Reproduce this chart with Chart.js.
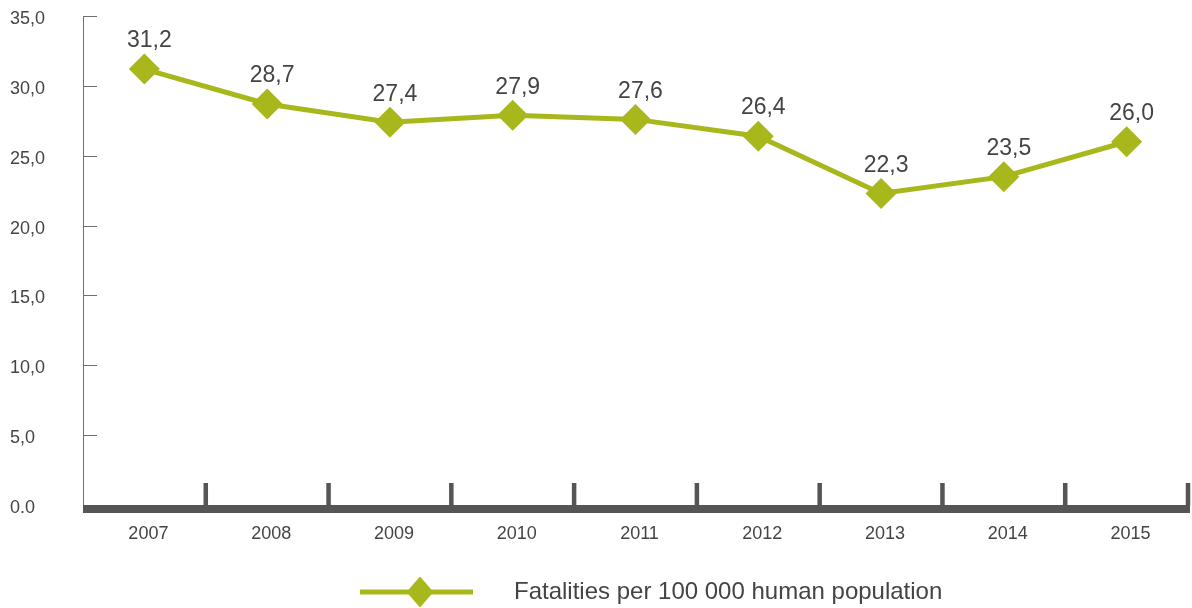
<!DOCTYPE html>
<html><head><meta charset="utf-8">
<style>html,body{margin:0;padding:0;background:#fff}#wrap{width:1192px;height:608px}</style>
<script src="https://cdn.jsdelivr.net/npm/chart.js@4.4.0/dist/chart.umd.min.js"></script>
</head><body><div id="wrap"><canvas id="c" width="1192" height="608"></canvas></div>
<script>
const years = ['2007', '2008', '2009', '2010', '2011', '2012', '2013', '2014', '2015'];
const fatalities = [31.2, 28.7, 27.4, 27.9, 27.6, 26.4, 22.3, 23.5, 26.0];
const yTicks = [0, 5, 10, 15, 20, 25, 30, 35];
const yTickLabels = ['0.0', '5,0', '10,0', '15,0', '20,0', '25,0', '30,0', '35,0'];
const seriesLabel = 'Fatalities per 100 000 human population';

const GREEN = '#a8b71c';
const AXIS = '#555555';
const TEXT = '#444444';
const FONT = "'Liberation Sans', Arial, Helvetica, sans-serif";

function fmt(v) { return v.toFixed(1).replace('.', ','); }

// legend symbol (line + diamond) as an image point style
const LW = 486, LH = 34;
const sym = document.createElement('canvas');
sym.width = LW; sym.height = LH;
(function () {
  const g = sym.getContext('2d');
  g.fillStyle = GREEN;
  g.fillRect(344, 14.5, 113, 5);
  g.beginPath();
  const cx = 404, cy = 17;
  g.moveTo(cx, cy - 15.5); g.lineTo(cx + 13.5, cy); g.lineTo(cx, cy + 15.5); g.lineTo(cx - 13.5, cy);
  g.closePath(); g.fill();
})();

const axisDecor = {
  id: 'axisDecor',
  afterDraw(chart) {
    const ctx = chart.ctx, a = chart.chartArea;
    const xs = chart.scales.x, ys = chart.scales.y;
    ctx.save();
    // thick x axis
    ctx.fillStyle = AXIS;
    ctx.fillRect(a.left, a.bottom, a.right - a.left + 2, 8);
    // boundary ticks (upwards)
    const half = (xs.getPixelForValue(1) - xs.getPixelForValue(0)) / 2;
    for (let i = 0; i < years.length; i++) {
      const xb = xs.getPixelForValue(i) + half;
      ctx.fillRect(xb - 2.25, a.bottom - 22, 4.5, 22);
    }
    // y ticks (inwards)
    ctx.strokeStyle = '#707070';
    ctx.lineWidth = 1;
    yTicks.forEach(v => {
      if (v === 0) return;
      const py = Math.round(ys.getPixelForValue(v)) + 0.5;
      ctx.beginPath(); ctx.moveTo(a.left, py); ctx.lineTo(a.left + 14, py); ctx.stroke();
    });
    ctx.restore();
  },
  afterDatasetsDraw(chart) {
    const ctx = chart.ctx;
    const meta = chart.getDatasetMeta(0);
    ctx.save();
    ctx.fillStyle = TEXT;
    ctx.font = "23px " + FONT;
    ctx.textAlign = 'center';
    ctx.textBaseline = 'middle';
    meta.data.forEach((pt, i) => {
      ctx.fillText(fmt(fatalities[i]), pt.x + 5, pt.y - 28);
    });
    ctx.restore();
  }
};

new Chart(document.getElementById('c'), {
  type: 'line',
  data: {
    labels: years,
    datasets: [{
      label: seriesLabel,
      data: fatalities,
      borderColor: GREEN,
      backgroundColor: GREEN,
      borderWidth: 5,
      tension: 0,
      pointStyle: 'rectRot',
      pointRadius: 15.5,
      pointHoverRadius: 15.5,
      pointBorderWidth: 0,
      pointBackgroundColor: GREEN,
      pointBorderColor: GREEN
    }]
  },
  options: {
    responsive: false,
    animation: false,
    events: [],
    layout: { autoPadding: false, padding: { left: 10, right: 4, top: 16, bottom: -6 } },
    plugins: {
      tooltip: { enabled: false },
      legend: {
        position: 'bottom',
        align: 'start',
        labels: {
          usePointStyle: true,
          pointStyleWidth: LW,
          padding: 6,
          color: TEXT,
          font: { family: FONT, size: 24 },
          generateLabels: () => [{
            text: seriesLabel,
            pointStyle: sym,
            fillStyle: 'transparent',
            strokeStyle: 'transparent',
            lineWidth: 0,
            hidden: false,
            datasetIndex: 0,
            fontColor: TEXT
          }]
        }
      }
    },
    scales: {
      x: {
        type: 'category',
        offset: true,
        grid: { display: false, drawTicks: false },
        border: { display: false },
        ticks: {
          color: TEXT,
          font: { family: FONT, size: 18 },
          padding: 18,
          labelOffset: 4,
          maxRotation: 0,
          autoSkip: false
        },
        afterFit(s) { s.height = 69; s.paddingLeft = 0; s.paddingRight = 0; }
      },
      y: {
        min: 0,
        max: 35,
        grid: { display: false, drawTicks: false },
        border: { display: true, color: '#707070', width: 1 },
        afterBuildTicks(s) { s.ticks = yTicks.map(v => ({ value: v })); },
        ticks: {
          color: TEXT,
          font: { family: FONT, size: 18 },
          crossAlign: 'far',
          labelOffset: 3,
          callback: (v) => yTickLabels[yTicks.indexOf(v)]
        },
        afterFit(s) { s.width = 73; }
      }
    }
  },
  plugins: [axisDecor]
});
</script>
</body></html>
